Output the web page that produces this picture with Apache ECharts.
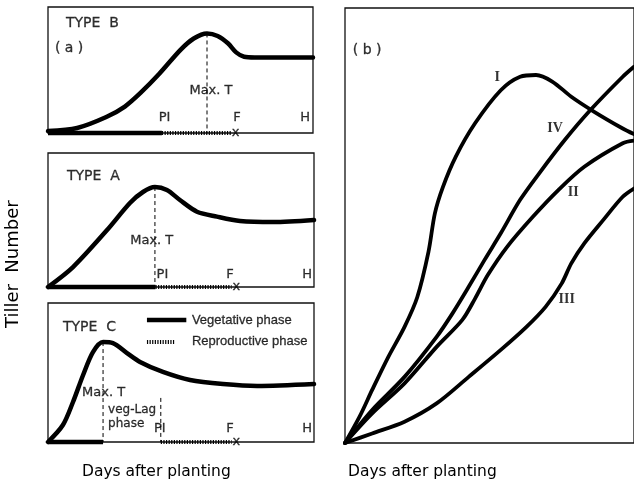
<!DOCTYPE html>
<html><head><meta charset="utf-8">
<script src="https://cdn.jsdelivr.net/npm/echarts@6/dist/echarts.min.js"></script>
<style>html,body{margin:0;padding:0;background:#fff}#c{width:634px;height:487px}</style>
</head><body><div id="c"></div>
<script>
// ---- Panel (a): schematic tiller curves (x: relative days 0-100, y: relative tiller number 0-100)
const typeB_x = [0, 11, 22, 29, 35, 42, 50, 55, 60, 64, 68, 71, 74, 78, 100];
const typeB_y = [1.5, 4, 12.7, 21, 32, 47, 66, 75, 79, 77, 71, 64, 60.5, 60, 60];
const typeA_x = [0, 9.4, 22.2, 30.8, 35.7, 40.2, 44.7, 49.6, 56, 63.5, 72.2, 84.6, 100];
const typeA_y = [0, 14.9, 42.5, 62.7, 70.9, 74.6, 72.4, 64.9, 56.2, 52.5, 49.3, 48.5, 50];
const typeC_x = [0, 5.6, 9.4, 13.2, 16.9, 20.7, 24.4, 29.7, 34.6, 43.2, 53.4, 65.8, 78.6, 100];
const typeC_y = [0, 12.2, 28.8, 48.2, 64.7, 71.9, 71.2, 64, 57.6, 50.4, 44.6, 41.7, 40.3, 41.7];
// phase boundaries: [vegetative end (PI), reproductive end (F)], and Max.T positions
const phaseB = [43, 69];
const phaseA = [40.4, 69];
const phaseC = [42.4, 69];
const maxTB = [60, 79];
const maxTA = [40.2, 74.6];
const maxTC = [20.7, 71.9];
const lagEndC = [42.4, 31.7];
// ---- Panel (b): tiller patterns I-IV
const b_I_x = [0, 5, 9.4, 15, 20.6, 25, 28.9, 31.1, 33.9, 38.3, 45, 53.9, 60.6, 66.1, 71.7, 78.3, 86.1, 96.1, 100];
const b_I_y = [0, 6, 12.2, 19.8, 26.7, 33.5, 44, 52.8, 58.9, 65.8, 73.5, 81.1, 84.2, 84.6, 83.1, 79.6, 76.2, 72.3, 71];
const b_IV_x = [0, 9.4, 20.6, 31.7, 37.2, 42.8, 48.3, 53.9, 60.6, 67.2, 76.1, 85, 96.1, 100];
const b_IV_y = [0, 7.6, 15.2, 24.4, 29.8, 35.9, 42.1, 48.2, 55.9, 62, 69.7, 76.6, 84.2, 86.5];
const b_II_x = [0, 9.4, 20.6, 31.7, 40.6, 45, 49.4, 56.1, 65, 73.9, 82.8, 96.1, 100];
const b_II_y = [0, 6.8, 13.7, 22.1, 28.3, 33.2, 38.6, 45.1, 52, 58.2, 63.5, 68.9, 69.5];
const b_III_x = [0, 9.4, 20.6, 31.7, 42.8, 53.9, 62.8, 69.4, 75, 78.3, 82.8, 89.4, 96.1, 100];
const b_III_y = [0, 2.2, 4.9, 9.1, 15.2, 21.4, 26.7, 31.3, 36.7, 41.3, 45.9, 51.3, 56.6, 58.5];

const zip = (xs, ys) => xs.map((x, i) => [x, ys[i]]);
const FONT = 'DejaVu Sans';
const series = [];
function curve(g, xs, ys, w) {
  series.push({type: 'line', xAxisIndex: g, yAxisIndex: g, data: zip(xs, ys), smooth: 0.3, symbol: 'none',
    clip: false, lineStyle: {color: '#000', width: w, cap: 'round', join: 'round'}, silent: true});
}
function seg(g, pts, style) {
  series.push({type: 'line', xAxisIndex: g, yAxisIndex: g, data: pts, symbol: 'none', clip: false,
    lineStyle: Object.assign({color: '#000'}, style), silent: true});
}
function labels(g, items, align, extra) {
  series.push({type: 'scatter', xAxisIndex: g, yAxisIndex: g, symbolSize: 0, silent: true,
    data: items.map(t => ({value: [t[0], t[1]], name: t[2]})),
    label: Object.assign({show: true, position: align === 'left' ? 'right' : 'inside', distance: 0,
      formatter: p => p.name, color: '#000', fontFamily: FONT, fontSize: 13,
      textBorderColor: '#000', textBorderWidth: 0.3}, extra || {})});
}
const wavy = {width: 4, type: [1.2, 1.4], cap: 'butt'};
const dashed = {width: 1, type: [4, 3]};

// Type B (grid 0)
curve(0, typeB_x, typeB_y, 4.5);
seg(0, [[0, 0], [phaseB[0], 0]], {width: 4.5});
seg(0, [[phaseB[0], 0], [phaseB[1], 0]], wavy);
seg(0, [maxTB, [maxTB[0], 0]], dashed);
labels(0, [[6.8, 87.3, 'TYPE  B']], 'left', {fontSize: 14});
labels(0, [[2.6, 67, '( a )']], 'left', {fontSize: 14});
labels(0, [[61.5, 34, 'Max. T'], [44, 12, 'PI'], [71.3, 12, 'F'], [97, 12, 'H'], [70.8, 0, 'x']], 'center');

// Type A (grid 1)
curve(1, typeA_x, typeA_y, 4.5);
seg(1, [[0, 0], [phaseA[0], 0]], {width: 4.5});
seg(1, [[phaseA[0], 0], [phaseA[1], 0]], wavy);
seg(1, [maxTA, [maxTA[0], 0]], dashed);
labels(1, [[7.1, 82.8, 'TYPE  A']], 'left', {fontSize: 14});
labels(1, [[39, 34.3, 'Max. T'], [43, 9, 'PI'], [68.4, 9, 'F'], [97.4, 9, 'H'], [70.8, 0, 'x']], 'center');

// Type C (grid 2)
curve(2, typeC_x, typeC_y, 4.5);
seg(2, [[0, 0], [maxTC[0], 0]], {width: 4.5});
seg(2, [[phaseC[0], 0], [phaseC[1], 0]], wavy);
seg(2, [maxTC, [maxTC[0], 0]], dashed);
seg(2, [lagEndC, [lagEndC[0], 0]], dashed);
seg(2, [[37.2, 87.8], [52, 87.8]], {width: 4.5});
seg(2, [[37.2, 72], [47.5, 72]], wavy);
labels(2, [[5.6, 82.7, 'TYPE  C']], 'left', {fontSize: 14});
labels(2, [[54.1, 87.8, 'Vegetative phase'], [54.1, 72, 'Reproductive phase']], 'left',
  {fontFamily: 'Liberation Sans', fontSize: 13});
labels(2, [[22.6, 23, 'veg-Lag'], [22.6, 13, 'phase']], 'left', {fontSize: 12});
labels(2, [[20.9, 35.3, 'Max. T'], [42, 9.4, 'PI'], [68.4, 9.4, 'F'], [97.4, 9.4, 'H'], [70.8, 0, 'x']], 'center');

// Panel (b) (grid 3)
curve(3, b_I_x, b_I_y, 3.8);
curve(3, b_IV_x, b_IV_y, 3.8);
curve(3, b_II_x, b_II_y, 3.8);
curve(3, b_III_x, b_III_y, 3.8);
labels(3, [[2.7, 90.3, '( b )']], 'left', {fontSize: 14});
labels(3, [[52.7, 84.1, 'I'], [72.7, 72.4, 'IV'], [79, 57.5, 'II'], [76.7, 32.9, 'III']], 'center',
  {fontFamily: 'Liberation Serif', fontSize: 14, fontWeight: 'bold', textBorderWidth: 0});

const grids = [
  {left: 48, top: 7, width: 265, height: 126},
  {left: 48, top: 153, width: 266, height: 134},
  {left: 48, top: 303, width: 266, height: 139},
  {left: 345, top: 8, width: 300, height: 435}
].map(g => Object.assign(g, {show: true, borderColor: '#111', borderWidth: 1.3, backgroundColor: 'transparent'}));
const axX = grids.map((g, i) => ({type: 'value', gridIndex: i, min: 0, max: 100, show: false}));
const axY = grids.map((g, i) => ({type: 'value', gridIndex: i, min: 0, max: 100, show: false}));

const chart = echarts.init(document.getElementById('c'), null, {renderer: 'canvas'});
chart.setOption({
  backgroundColor: '#fff',
  animation: false,
  grid: grids, xAxis: axX, yAxis: axY, series: series,
  graphic: [
    {type: 'text', left: 82, top: 464, style: {text: 'Days after planting', font: '15.5px "DejaVu Sans"', fill: '#000'}},
    {type: 'text', left: 348, top: 464, style: {text: 'Days after planting', font: '15.5px "DejaVu Sans"', fill: '#000'}},
    {type: 'text', x: 4, y: 328, rotation: Math.PI / 2, style: {text: 'Tiller  Number', font: '18px "DejaVu Sans"', fill: '#000'}}
  ]
});
</script></body></html>
